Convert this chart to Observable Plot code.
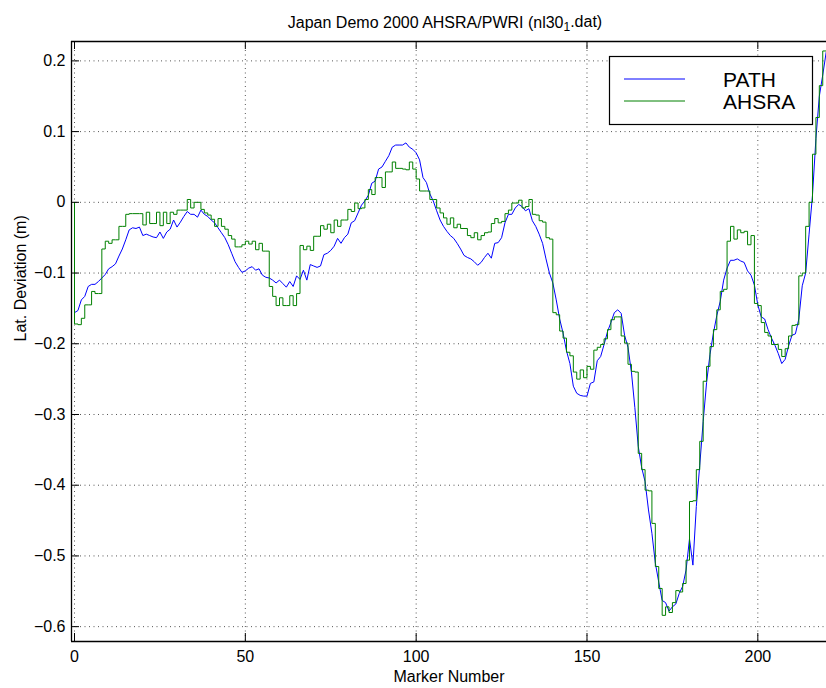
<!DOCTYPE html>
<html><head><meta charset="utf-8">
<script src="https://cdn.jsdelivr.net/npm/d3@7"></script>
<script src="https://cdn.jsdelivr.net/npm/@observablehq/plot@0.6"></script>
<style>body{margin:0;background:#fff}#chart svg{display:block}</style>
</head><body><div id="chart"></div>
<script>
const chartTitle = "Japan Demo 2000 AHSRA/PWRI (nl30";
const titleSub = "1";
const titleTail = ".dat)";
const xLabel = "Marker Number";
const yLabel = "Lat. Deviation (m)";
const seriesNames = ["PATH", "AHSRA"];
const seriesColors = ["#0000ff", "#008000"];
const xTicks = [0, 50, 100, 150, 200];
const yTicks = [0.2, 0.1, 0, -0.1, -0.2, -0.3, -0.4, -0.5, -0.6];
const xDomain = [-0.88, 220.1];
const yDomain = [-0.621, 0.2274];

const markers = d3.range(0, 221);

const pathDev = [
-0.156,-0.153,-0.138,-0.133,-0.119,-0.116,-0.116,-0.112,-0.107,-0.102,
-0.094,-0.091,-0.087,-0.076,-0.066,-0.053,-0.039,-0.036,-0.037,-0.035,
-0.047,-0.045,-0.047,-0.049,-0.050,-0.042,-0.051,-0.042,-0.038,-0.025,
-0.035,-0.028,-0.020,-0.013,-0.017,-0.017,-0.021,-0.011,-0.017,-0.020,
-0.025,-0.029,-0.036,-0.043,-0.050,-0.060,-0.072,-0.084,-0.092,-0.099,
-0.097,-0.093,-0.091,-0.096,-0.094,-0.103,-0.106,-0.107,-0.110,-0.114,
-0.110,-0.115,-0.120,-0.112,-0.119,-0.104,-0.109,-0.096,-0.110,-0.088,
-0.090,-0.092,-0.090,-0.074,-0.072,-0.068,-0.062,-0.051,-0.058,-0.050,
-0.045,-0.029,-0.026,-0.015,-0.004,0.002,0.010,0.027,0.030,0.047,
0.050,0.058,0.066,0.078,0.081,0.081,0.081,0.084,0.078,0.075,
0.070,0.060,0.035,0.028,0.012,0.002,-0.012,-0.025,-0.034,-0.041,
-0.047,-0.051,-0.058,-0.066,-0.075,-0.078,-0.080,-0.084,-0.089,-0.085,
-0.078,-0.072,-0.079,-0.058,-0.057,-0.050,-0.029,-0.017,-0.017,-0.008,
-0.003,-0.006,-0.012,-0.009,-0.026,-0.034,-0.045,-0.058,-0.080,-0.100,
-0.114,-0.138,-0.165,-0.185,-0.210,-0.228,-0.260,-0.270,-0.273,-0.274,
-0.274,-0.256,-0.254,-0.224,-0.218,-0.201,-0.183,-0.170,-0.156,-0.152,
-0.157,-0.188,-0.205,-0.240,-0.290,-0.345,-0.375,-0.395,-0.435,-0.468,
-0.510,-0.537,-0.563,-0.566,-0.578,-0.572,-0.568,-0.553,-0.543,-0.520,
-0.476,-0.513,-0.430,-0.372,-0.310,-0.255,-0.215,-0.185,-0.160,-0.140,
-0.110,-0.093,-0.082,-0.082,-0.080,-0.083,-0.085,-0.097,-0.103,-0.117,
-0.145,-0.162,-0.165,-0.180,-0.192,-0.202,-0.214,-0.228,-0.222,-0.203,
-0.188,-0.186,-0.165,-0.118,-0.100,-0.045,0.010,0.090,0.150,0.180,
0.212
];

const ahsraDev = [
0.000,-0.172,-0.173,-0.164,-0.145,-0.145,-0.126,-0.129,-0.129,-0.066,
-0.055,-0.058,-0.053,-0.053,-0.034,-0.034,-0.017,-0.016,-0.016,-0.016,
-0.016,-0.032,-0.014,-0.030,-0.030,-0.014,-0.033,-0.014,-0.030,-0.014,
-0.017,-0.011,-0.011,-0.011,0.004,-0.008,0.000,0.000,-0.010,-0.015,
-0.018,-0.024,-0.034,-0.023,-0.034,-0.038,-0.047,-0.052,-0.063,-0.063,
-0.060,-0.055,-0.059,-0.055,-0.067,-0.058,-0.069,-0.069,-0.119,-0.133,
-0.146,-0.135,-0.146,-0.146,-0.132,-0.146,-0.129,-0.061,-0.067,-0.062,
-0.068,-0.048,-0.048,-0.033,-0.038,-0.031,-0.043,-0.025,-0.034,-0.025,
-0.025,-0.010,-0.013,-0.001,-0.009,-0.008,0.004,0.018,0.011,0.035,
0.035,0.021,0.043,0.043,0.057,0.048,0.048,0.047,0.046,0.057,
0.047,0.033,0.016,0.016,0.016,0.004,0.004,-0.008,-0.015,-0.022,
-0.031,-0.022,-0.036,-0.031,-0.037,-0.037,-0.047,-0.050,-0.043,-0.053,
-0.047,-0.043,-0.042,-0.030,-0.023,-0.029,-0.027,-0.016,-0.011,-0.001,
-0.001,0.003,-0.008,-0.006,0.004,-0.017,-0.018,-0.026,-0.028,-0.050,
-0.052,-0.156,-0.159,-0.182,-0.192,-0.212,-0.217,-0.240,-0.250,-0.237,
-0.248,-0.232,-0.236,-0.209,-0.205,-0.201,-0.193,-0.180,-0.166,-0.162,
-0.162,-0.189,-0.199,-0.229,-0.239,-0.240,-0.355,-0.378,-0.407,-0.408,
-0.454,-0.515,-0.546,-0.584,-0.572,-0.580,-0.566,-0.549,-0.551,-0.539,
-0.506,-0.423,-0.422,-0.378,-0.338,-0.253,-0.232,-0.204,-0.180,-0.152,
-0.126,-0.123,-0.055,-0.034,-0.052,-0.039,-0.043,-0.041,-0.060,-0.047,
-0.143,-0.146,-0.170,-0.184,-0.189,-0.201,-0.201,-0.208,-0.218,-0.207,
-0.189,-0.174,-0.173,-0.104,-0.100,-0.034,0.000,0.068,0.120,0.165,
0.214
];

const W = 826, H = 688;
const mL = 71, mR = 0, mT = 41, mB = 47;
const frameH = H - mT - mB, frameW = W - mL - mR;
const tickLen = 8;
const font = "'Liberation Sans', Arial, Helvetica, sans-serif";
const fmt = d => d < 0 ? "\u2212" + Math.abs(d) : String(d);

const plot = Plot.plot({
  width: W, height: H,
  marginLeft: mL, marginRight: mR, marginTop: mT, marginBottom: mB,
  style: {fontFamily: font, fontSize: "16px", background: "#fff", color: "#000", overflow: "visible"},
  x: {domain: xDomain, label: null},
  y: {domain: yDomain, label: null},
  marks: [
    Plot.gridX(xTicks, {stroke: "#555", strokeOpacity: 1, strokeDasharray: "1,3.5"}),
    Plot.gridY(yTicks, {stroke: "#555", strokeOpacity: 1, strokeDasharray: "1,3.5"}),
    Plot.line(markers, {x: d => d, y: i => pathDev[i], stroke: seriesColors[0], strokeWidth: 1, clip: true}),
    Plot.line(markers, {x: d => d, y: i => ahsraDev[i], stroke: seriesColors[1], strokeWidth: 1, curve: "step-before", clip: true}),
    Plot.tickX(xTicks, {x: d => d, insetTop: frameH - tickLen, stroke: "#000"}),
    Plot.tickX(xTicks, {x: d => d, insetBottom: frameH - tickLen, stroke: "#000"}),
    Plot.tickY(yTicks, {y: d => d, insetRight: frameW - tickLen, stroke: "#000"}),
    Plot.ruleY([yDomain[0]], {stroke: "#000", strokeWidth: 1.3}),
    Plot.ruleY([yDomain[1]], {stroke: "#000", strokeWidth: 1.3}),
    Plot.ruleX([xDomain[0]], {stroke: "#000", strokeWidth: 1.3}),
    Plot.axisX(xTicks, {tickSize: 0, tickPadding: 9, tickFormat: fmt, fontSize: 16, label: null}),
    Plot.axisY(yTicks, {tickSize: 0, tickPadding: 6, tickFormat: fmt, fontSize: 16, label: null}),
    Plot.text([xLabel], {frameAnchor: "bottom", dy: 40, fontSize: 16, fill: "#000"}),
    Plot.text([yLabel], {frameAnchor: "left", dx: -51, rotate: -90, fontSize: 16, fill: "#000"}),
    Plot.text([chartTitle + titleSub + titleTail], {frameAnchor: "top", dy: -25, dx: -4, fontSize: 16, fill: "#000"})
  ]
});

document.getElementById("chart").appendChild(plot);

const svg = d3.select(plot);
// subscript in title
svg.selectAll("text").filter(function() { return this.textContent === chartTitle + titleSub + titleTail; })
  .each(function() {
    const t = d3.select(this);
    t.text(null);
    t.append("tspan").text(chartTitle);
    t.append("tspan").attr("font-size", 12).attr("dy", "0.3em").text(titleSub);
    t.append("tspan").attr("dy", "-0.3em").text(titleTail);
  });

// legend box
const lg = svg.append("g").attr("font-family", font).attr("text-anchor", "start");
lg.append("rect").attr("x", 609.5).attr("y", 56.5).attr("width", 203).attr("height", 68)
  .attr("fill", "#fff").attr("stroke", "#000").attr("stroke-width", 1.2);
const legY = [79, 101];
seriesNames.forEach((name, i) => {
  lg.append("line").attr("x1", 624).attr("x2", 685).attr("y1", legY[i]).attr("y2", legY[i])
    .attr("stroke", seriesColors[i]).attr("stroke-width", 1);
  lg.append("text").attr("x", 723).attr("y", legY[i] + 8).attr("text-anchor", "start")
    .attr("font-size", 21).attr("fill", "#000").text(name);
});
</script></body></html>
